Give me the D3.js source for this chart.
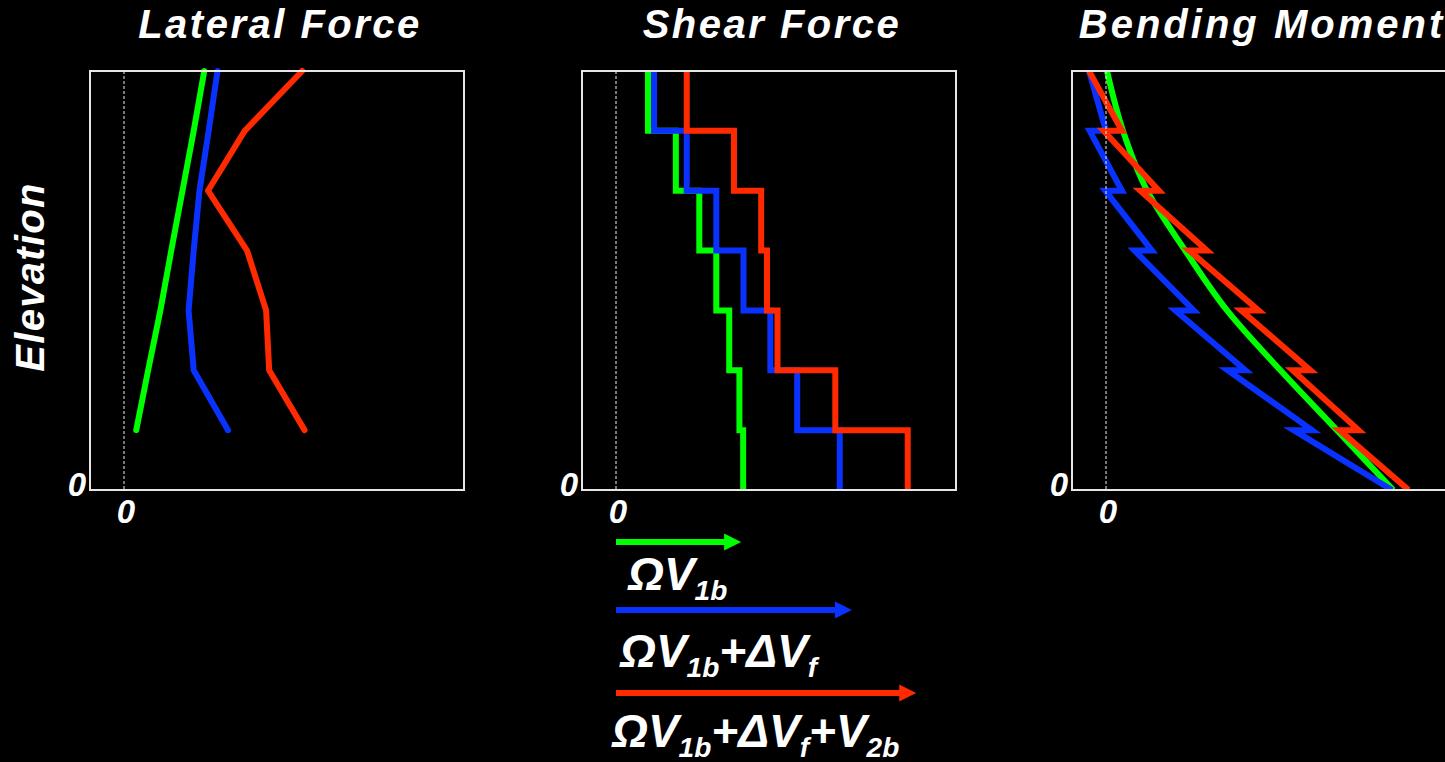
<!DOCTYPE html>
<html>
<head>
<meta charset="utf-8">
<script src="https://d3js.org/d3.v7.min.js"></script>
<style>
  body { margin: 0; background: #000; }
  svg { display: block; }
  text { font-family: "Liberation Sans", Arial, sans-serif; font-weight: bold; font-style: italic; fill: #fff; }
</style>
</head>
<body>
<div id="chart"></div>
<script>

// floor levels, 0 = base, 7 = roof
var floors = [1, 2, 3, 4, 5, 6, 7];

// lateral force at each floor (1..7)
var latGreen = [0.36, 0.71, 1.07, 1.39, 1.72, 2.05, 2.36];
var latBlue  = [3.06, 2.05, 1.90, 2.05, 2.22, 2.49, 2.75];
var latRed   = [5.31, 4.27, 4.18, 3.62, 2.47, 3.55, 5.24];

// story shear, story 1..7
var shearGreen = [3.74, 3.63, 3.33, 2.95, 2.45, 1.76, 0.94];
var shearBlue  = [6.58, 5.33, 4.54, 3.75, 2.95, 2.08, 1.12];
var shearRed   = [8.58, 6.45, 4.75, 4.44, 4.27, 3.47, 2.08];

// bending moment, green at levels 0..7
var momGreen = [8.45, 6.79, 5.13, 3.56, 2.33, 1.21, 0.50, 0.03];
// blue and red jump at each floor: bottom / top of story 1..7
var momBlueBot = [8.41, 6.06, 4.10, 2.58, 1.35, 0.47, 0.00];
var momBlueTop = [5.52, 3.58, 2.04, 0.84, -0.02, -0.48, -0.50];
var momRedBot  = [8.90, 7.43, 6.01, 4.49, 2.97, 1.56, 0.47];
var momRedTop  = [6.87, 5.49, 3.98, 2.45, 1.01, -0.07, -0.50];

// legend arrows (drawn on shear scale)
var legendShear = [3.68, 6.94, 8.83];
var legendParts = [
  [["ΩV", 0], ["1b", 1]],
  [["ΩV", 0], ["1b", 1], ["+ΔV", 0], ["f", 1]],
  [["ΩV", 0], ["1b", 1], ["+ΔV", 0], ["f", 1], ["+V", 0], ["2b", 1]]
];

var titles = ["Lateral Force", "Shear Force", "Bending Moment"];
var colors = ["#00ff00", "#0a32ff", "#ff2a00"];

var width = 1445, height = 762;
var boxW = 374, boxTop = 71, boxBottom = 490;
var boxLefts = [90, 582, 1072];

var svg = d3.select("#chart").append("svg")
    .attr("width", width)
    .attr("height", height);

var y = d3.scaleLinear().domain([0, 7]).range([boxBottom, boxTop]);

var line = function(x, curve) {
  return d3.line()
      .curve(curve || d3.curveLinear)
      .x(function(d) { return x(d[0]); })
      .y(function(d) { return y(d[1]); });
};

// clip for the panels
svg.append("defs").append("clipPath")
    .attr("id", "box")
  .append("rect")
    .attr("x", 0).attr("y", boxTop)
    .attr("width", boxW).attr("height", boxBottom - boxTop);

var panels = boxLefts.map(function(left, i) {
  var g = svg.append("g").attr("transform", "translate(" + left + ",0)");
  var x = d3.scaleLinear().domain([-1, 10]).range([0, boxW]);

  g.append("text")
      .attr("x", boxW / 2 + 3)
      .attr("y", 38)
      .attr("text-anchor", "middle")
      .style("font-size", "40px")
      .style("letter-spacing", i == 2 ? "3px" : "2.5px")
      .text(titles[i]);

  var plot = g.append("g").attr("clip-path", i == 0 ? null : "url(#box)");
  return {g: g, x: x, plot: plot};
});

// lateral force lines
var p1 = panels[0];
[latGreen, latBlue, latRed].forEach(function(vals, k) {
  p1.plot.append("path")
      .datum(floors.map(function(f, i) { return [vals[i], f]; }))
      .attr("d", line(p1.x))
      .attr("fill", "none")
      .attr("stroke", colors[k])
      .attr("stroke-width", 6)
      .attr("stroke-linecap", "round")
      .attr("stroke-linejoin", "round");
});

// shear steps
var p2 = panels[1];
[shearGreen, shearBlue, shearRed].forEach(function(vals, k) {
  var pts = [];
  floors.forEach(function(f, i) {
    pts.push([vals[i], f - 1]);
    pts.push([vals[i], f]);
  });
  p2.plot.append("path")
      .datum(pts)
      .attr("d", line(p2.x))
      .attr("fill", "none")
      .attr("stroke", colors[k])
      .attr("stroke-width", 6)
      .attr("stroke-linejoin", "miter");
});

// bending moment
var p3 = panels[2];
var momSeries = [
  momGreen.map(function(v, i) { return [v, i]; }),
  [], []
];
floors.forEach(function(f, i) {
  momSeries[1].push([momBlueBot[i], f - 1]);
  momSeries[1].push([momBlueTop[i], f]);
  momSeries[2].push([momRedBot[i], f - 1]);
  momSeries[2].push([momRedTop[i], f]);
});
momSeries.forEach(function(pts, k) {
  p3.plot.append("path")
      .datum(pts)
      .attr("d", line(p3.x, k == 0 ? d3.curveMonotoneY : null))
      .attr("fill", "none")
      .attr("stroke", colors[k])
      .attr("stroke-width", 6)
      .attr("stroke-linejoin", "miter");
});

// zero lines, boxes and zero labels
panels.forEach(function(p) {
  p.g.append("line")
      .attr("x1", p.x(0)).attr("x2", p.x(0))
      .attr("y1", boxTop).attr("y2", boxBottom)
      .attr("stroke", "#f0f0f0")
      .attr("stroke-width", 1)
      .attr("stroke-dasharray", "3,2");

  p.g.append("rect")
      .attr("x", 0).attr("y", boxTop)
      .attr("width", boxW).attr("height", boxBottom - boxTop)
      .attr("fill", "none")
      .attr("stroke", "#e6e6e6")
      .attr("stroke-width", 2);

  p.g.append("text")
      .attr("x", -4).attr("y", 496)
      .attr("text-anchor", "end")
      .style("font-size", "33px")
      .text("0");

  p.g.append("text")
      .attr("x", p.x(0) + 2).attr("y", 523)
      .attr("text-anchor", "middle")
      .style("font-size", "33px")
      .text("0");
});

// y axis title
svg.append("text")
    .attr("transform", "translate(44,277) rotate(-90)")
    .attr("text-anchor", "middle")
    .style("font-size", "40px")
    .style("letter-spacing", "1.3px")
    .text("Elevation");

// legend
var arrowY = [542, 610, 693];
var textY = [590, 667, 747];
var textX = [628, 620, 612];
legendShear.forEach(function(v, i) {
  var x0 = boxLefts[1] + p2.x(0), x1 = boxLefts[1] + p2.x(v);
  svg.append("line")
      .attr("x1", x0).attr("x2", x1 - 14)
      .attr("y1", arrowY[i]).attr("y2", arrowY[i])
      .attr("stroke", colors[i])
      .attr("stroke-width", 6);
  svg.append("path")
      .attr("d", "M" + x1 + "," + arrowY[i] + "L" + (x1 - 17) + "," + (arrowY[i] - 8.5) +
                 "L" + (x1 - 17) + "," + (arrowY[i] + 8.5) + "Z")
      .attr("fill", colors[i]);

  var t = svg.append("text")
      .attr("x", textX[i]).attr("y", textY[i])
      .style("font-size", "46px");
  var sub = false;
  legendParts[i].forEach(function(part) {
    var dy = 0;
    if (part[1] && !sub) dy = 10;
    if (!part[1] && sub) dy = -10;
    sub = !!part[1];
    t.append("tspan")
        .attr("dy", dy)
        .style("font-size", part[1] ? "28px" : "46px")
        .text(part[0]);
  });
});

</script>
</body>
</html>
